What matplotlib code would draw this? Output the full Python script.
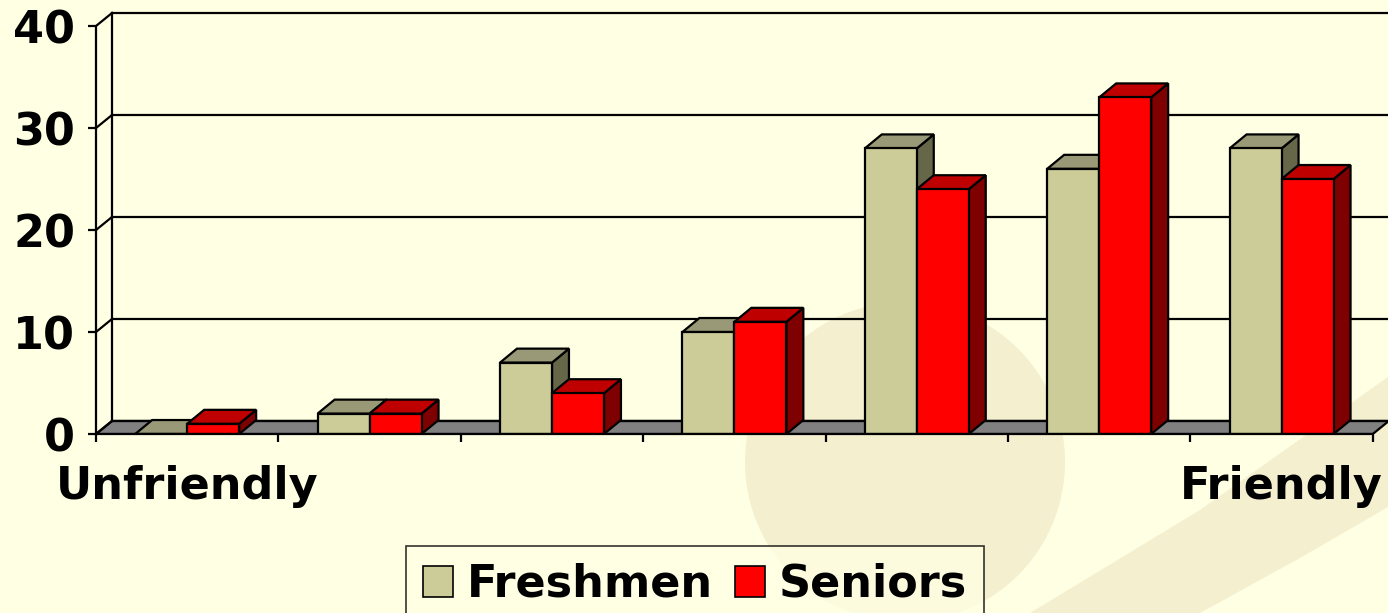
import matplotlib
matplotlib.use("Agg")
import matplotlib.pyplot as plt
from matplotlib.patches import Polygon, Circle, Patch

# data
categories = ["Unfriendly", "", "", "", "", "", "Friendly"]
freshmen = [0, 2, 7, 10, 28, 26, 28]
seniors = [1, 2, 4, 11, 24, 33, 25]
yticks = [0, 10, 20, 30, 40]

bg = "#FFFFE3"
colors = {
    "Freshmen": ("#CCCC99", "#999977", "#666649"),
    "Seniors": ("#FF0000", "#BF0000", "#7F0000"),
}

W, H = 1388, 613
fig = plt.figure(figsize=(W / 100, H / 100), dpi=100, facecolor=bg)

# faint template decoration in the background
bgax = fig.add_axes([0, 0, 1, 1], zorder=-1)
bgax.set_xlim(0, W)
bgax.set_ylim(H, 0)
bgax.axis("off")
bgax.add_patch(Circle((905, 462), 160, color="#F4EFCF", lw=0))
bgax.add_patch(Polygon([(1030, 613), (1200, 510), (1388, 377), (1388, 507), (1300, 558), (1200, 613)],
                       closed=True, color="#F4EFCF", lw=0))

# main axes: front plane of the 3d chart
ax = fig.add_axes([96 / W, (H - 434) / H, (W - 96) / W, 434 / H])
ax.set_facecolor("none")
ax.set_xlim(0, (W - 96) / 182.4)
ax.set_ylim(0, 434 / 10.2)

lw = 1.6
wdx, wdy = 0.088, 1.28      # wall depth
bdx, bdy = 0.093, 1.37      # bar depth
ncat = len(categories)

# floor
ax.add_patch(Polygon([(0, 0), (ncat, 0), (ncat + wdx, wdy), (wdx, wdy)],
                     closed=True, fc="#808080", ec="black", lw=lw, zorder=1))
# back wall gridlines + side wall diagonals
for v in yticks:
    ax.plot([wdx, ax.get_xlim()[1]], [v + wdy, v + wdy], color="black", lw=lw, zorder=1)
    ax.plot([0, wdx], [v, v + wdy], color="black", lw=lw, zorder=1)
ax.plot([wdx, wdx], [wdy, yticks[-1] + wdy], color="black", lw=lw, zorder=1)


def bar3d(x0, w, h, cols, z):
    front, top, side = cols
    ax.add_patch(Polygon([(x0 + w, 0), (x0 + w + bdx, bdy), (x0 + w + bdx, h + bdy), (x0 + w, h)],
                         closed=True, fc=side, ec="black", lw=lw, zorder=z))
    ax.add_patch(Polygon([(x0, h), (x0 + w, h), (x0 + w + bdx, h + bdy), (x0 + bdx, h + bdy)],
                         closed=True, fc=top, ec="black", lw=lw, zorder=z))
    ax.add_patch(Polygon([(x0, 0), (x0 + w, 0), (x0 + w, h), (x0, h)],
                         closed=True, fc=front, ec="black", lw=lw, zorder=z))


bw = 0.285
gap = (1 - 2 * bw) / 2
z = 2
for i in range(ncat):
    bar3d(i + gap, bw, freshmen[i], colors["Freshmen"], z)
    bar3d(i + gap + bw, bw, seniors[i], colors["Seniors"], z + 1)
    z += 2

# spines / ticks
for s in ["top", "right"]:
    ax.spines[s].set_visible(False)
ax.spines["left"].set_bounds(0, yticks[-1])
ax.spines["bottom"].set_bounds(0, ncat)
ax.spines["left"].set_linewidth(lw)
ax.spines["bottom"].set_linewidth(lw)
ax.spines["left"].set_zorder(30)
ax.spines["bottom"].set_zorder(30)

ax.set_yticks(yticks)
ax.set_yticklabels([str(v) for v in yticks], fontsize=32, fontweight="bold")
ax.tick_params(axis="y", length=6, width=lw, pad=9)

ax.set_xticks(range(ncat + 1))
ax.set_xticklabels([])
ax.set_xticks([i + 0.5 for i in range(ncat)], minor=True)
ax.set_xticklabels(categories, minor=True, fontsize=32, fontweight="bold")
ax.tick_params(axis="x", which="major", length=6, width=lw)
ax.tick_params(axis="x", which="minor", length=0, pad=22)

# legend
handles = [Patch(fc=colors[k][0], ec="black", lw=1.2, label=k) for k in colors]
leg = fig.legend(handles=handles, loc="upper center", bbox_to_anchor=(695 / W, 1 - 546 / H),
                 ncol=2, prop={"weight": "bold", "size": 32},
                 frameon=True, fancybox=False, edgecolor="black", facecolor=bg,
                 handlelength=0.68, handleheight=0.68, handletextpad=0.3,
                 columnspacing=0.5, borderpad=0.38, borderaxespad=0)
leg.get_frame().set_linewidth(1.2)

fig.savefig("out.png", dpi=100, facecolor=bg)
